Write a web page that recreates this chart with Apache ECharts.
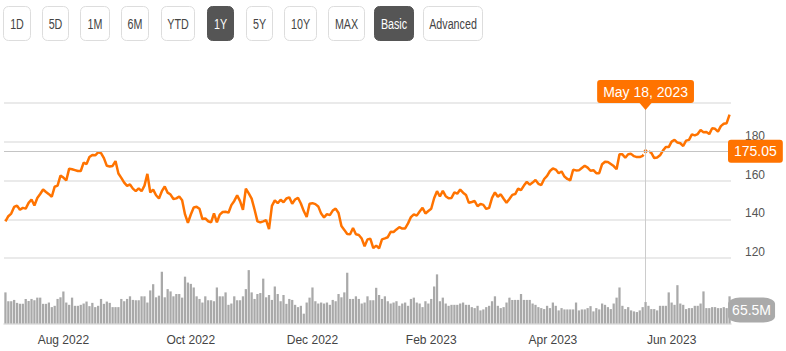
<!DOCTYPE html>
<html>
<head>
<meta charset="utf-8">
<script src="https://cdn.jsdelivr.net/npm/echarts@6/dist/echarts.min.js"></script>
<style>
  html, body { margin: 0; padding: 0; background: #fff; }
  #chart { width: 786px; height: 351px; }
</style>
</head>
<body>
<div id="chart"></div>
<script>
// trading calendar, 1 Jul 2022 - 30 Jun 2023
var startDay = '2022-07-01';
var endDay = '2023-06-30';
var holidays = ['2022-07-04', '2022-09-05', '2022-11-24', '2022-12-26', '2023-01-02',
  '2023-01-16', '2023-02-20', '2023-04-07', '2023-05-29', '2023-06-19'];
var monthNames = ['Jan', 'Feb', 'Mar', 'Apr', 'May', 'Jun', 'Jul', 'Aug', 'Sep', 'Oct', 'Nov', 'Dec'];

// daily close
var closes = [
  138.93, 141.56, 142.92, 146.35, 147.04, 144.87, 145.86, 145.49, 148.47, 150.17,
  147.07, 151.00, 153.04, 155.35, 154.09, 152.95, 151.60, 156.79, 157.35, 162.51,
  161.51, 160.01, 166.13, 165.81, 165.35, 164.87, 164.92, 169.24, 168.49, 172.10,
  173.19, 173.03, 174.55, 174.15, 171.52, 167.57, 167.23, 167.53, 170.03, 163.62,
  161.38, 158.91, 157.22,
  157.96, 155.81, 154.53, 155.96, 154.46, 157.37, 163.43, 153.84, 155.31, 152.37,
  150.70, 154.48, 156.90, 153.72, 152.74, 150.43, 150.77, 151.76, 149.84, 142.48, 138.20,
  142.45, 146.10, 146.40, 145.43, 140.09, 140.42, 138.98, 138.34, 142.99, 138.38,
  142.41, 143.75, 143.86, 143.39, 147.27, 149.45, 152.34, 149.35, 144.80, 155.74, 153.34,
  150.65, 145.03, 138.88, 138.38, 138.92, 139.50, 134.87, 146.87, 149.70, 148.28,
  150.04, 148.79, 150.72, 151.29, 148.01, 150.18, 151.07, 148.11, 144.22, 141.17, 148.03,
  148.31, 147.81, 146.63, 142.91, 140.94, 142.65, 142.16, 144.49, 145.47, 143.21,
  136.50, 134.51, 132.37, 132.30, 135.45, 132.23, 131.86, 130.03, 126.04, 129.61, 129.93,
  125.07, 126.36, 125.02, 129.62, 130.15, 130.73, 133.49, 133.41, 134.76, 135.94,
  135.21, 135.27, 137.87, 141.11, 142.53, 141.86, 143.96, 145.93, 143.00, 144.29,
  145.43, 150.82, 154.50, 151.73, 154.65, 151.92, 150.87, 151.01, 153.85, 153.20,
  155.33, 153.71, 152.55, 148.48, 148.91, 149.40, 146.71, 147.92, 147.41,
  145.31, 145.91, 151.03, 153.83, 151.60, 152.87, 150.59, 148.50, 150.47, 152.59,
  152.99, 155.85, 155.00, 157.40, 159.28, 157.83, 158.93, 160.25, 158.28, 157.65,
  160.77, 162.36, 164.90,
  166.17, 165.63, 163.76, 164.66, 162.03, 160.80, 160.10, 165.56, 165.21, 165.23,
  166.47, 167.63, 166.65, 165.02, 165.33, 163.77, 163.76, 168.41, 169.68,
  169.59, 168.54, 167.45, 165.79, 173.57, 173.50, 171.77, 173.56, 173.75, 172.57,
  172.07, 172.07, 172.69, 175.05, 175.16, 174.20, 171.56, 171.84, 172.99, 175.43,
  177.30, 177.25,
  180.09, 180.95, 179.58, 179.21, 177.82, 180.57, 180.96, 183.79, 183.31, 183.95,
  186.01, 184.92, 185.01, 183.96, 187.00, 186.68, 185.27, 188.06, 189.25, 189.59, 193.97
];

// daily volume, millions
var volumes = [
  95, 68, 68, 72, 63, 60, 60, 75, 69, 75, 71, 79, 79, 60, 60, 64, 50, 54, 75, 80,
  98, 64, 57, 79, 54, 54, 57, 61, 67, 53, 63, 50, 54, 75, 60, 67, 63, 50, 50, 50,
  75, 68, 75, 83, 72, 71, 71, 83, 83, 64, 101, 120, 80, 85, 158, 80, 105, 98, 83, 90,
  90, 79, 143, 125, 121, 110, 83, 75, 64, 83, 71, 71, 68, 110, 83, 83, 95, 57, 61, 83,
  71, 71, 83, 105, 163, 95, 75, 90, 93, 137, 80, 87, 72, 113, 90, 68, 87, 60, 75, 72,
  57, 50, 54, 30, 64, 79, 110, 68, 61, 64, 61, 64, 57, 72, 68, 90, 80, 95, 155, 75,
  75, 83, 75, 61, 64, 83, 71, 71, 109, 87, 75, 83, 68, 61, 64, 68, 54, 61, 64, 54,
  75, 79, 64, 61, 50, 68, 61, 75, 113, 150, 68, 79, 61, 54, 57, 57, 57, 61, 64, 57,
  57, 50, 47, 54, 40, 43, 50, 54, 68, 83, 54, 47, 50, 64, 79, 72, 72, 72, 90, 72,
  72, 72, 61, 57, 50, 47, 44, 54, 47, 64, 54, 40, 47, 43, 43, 43, 43, 64, 40, 43,
  43, 47, 53, 37, 47, 43, 61, 57, 50, 44, 61, 79, 110, 54, 44, 50, 40, 37, 35, 40,
  50, 65.5, 54, 44, 44, 40, 54, 54, 54, 95, 64, 57, 117, 61, 57, 44, 47, 47, 54, 54,
  61, 98, 47, 47, 50, 50, 47, 47, 50, 47, 83
];

var priceTicks = [120, 140, 160, 180, 200];
var hoverDate = '2023-05-18';
var hoverLabel = 'May 18, 2023';
var buttons = ['1D', '5D', '1M', '6M', 'YTD', '1Y', '5Y', '10Y', 'MAX', 'Basic', 'Advanced'];
var activeButtons = ['1Y', 'Basic'];

// layout of the button row
var btnX = [3, 42, 80, 121, 161, 207, 246, 284, 328, 374, 423];
var btnW = [27, 26, 29, 27, 33, 26, 26, 32, 36, 39, 59];

function pad(n) { return n < 10 ? '0' + n : '' + n; }
function fmt(d) { return d.getUTCFullYear() + '-' + pad(d.getUTCMonth() + 1) + '-' + pad(d.getUTCDate()); }

var dates = [];
var d = new Date(startDay + 'T00:00:00Z');
var last = new Date(endDay + 'T00:00:00Z');
while (d <= last) {
  var wd = d.getUTCDay();
  var s = fmt(d);
  if (wd !== 0 && wd !== 6 && holidays.indexOf(s) < 0) dates.push(s);
  d.setUTCDate(d.getUTCDate() + 1);
}

var hoverIdx = dates.indexOf(hoverDate);
var hoverPrice = closes[hoverIdx];
var hoverVol = volumes[hoverIdx];

function isLabelDay(index) {
  if (index === 0) return false;
  var m = +dates[index].slice(5, 7);
  var pm = +dates[index - 1].slice(5, 7);
  return m !== pm && m % 2 === 0;
}

var ORANGE = '#ff7300';
var FONT = "'Liberation Sans', Arial, sans-serif";

var lineData = closes.map(function (v, i) {
  if (i !== hoverIdx) return v;
  return {
    value: v,
    symbol: 'circle',
    symbolSize: 6,
    itemStyle: { color: ORANGE, borderColor: '#fff', borderWidth: 2 }
  };
});

var graphics = [];
buttons.forEach(function (b, i) {
  var on = activeButtons.indexOf(b) >= 0;
  graphics.push({
    type: 'rect',
    shape: { x: btnX[i] + 0.5, y: 6.5, width: btnW[i], height: 34, r: 5 },
    style: { fill: on ? '#555555' : '#ffffff', stroke: on ? '#555555' : '#dddddd', lineWidth: 1 },
    silent: true
  });
  // the site uses a condensed face, squeeze the text to match
  graphics.push({
    type: 'text',
    x: btnX[i] + btnW[i] / 2 + 0.5,
    y: 24,
    scaleX: 0.74,
    style: {
      text: b,
      align: 'center',
      verticalAlign: 'middle',
      fill: on ? '#ffffff' : '#444444',
      font: "14.5px 'Liberation Sans', Arial, sans-serif"
    },
    silent: true
  });
});

var chart = echarts.init(document.getElementById('chart'), null, { renderer: 'svg' });
chart.setOption({
  animation: false,
  textStyle: { fontFamily: FONT },
  graphic: graphics,
  grid: [
    { left: 4, right: 55, top: 103, height: 155 },
    { left: 4, right: 55, top: 258, height: 65.5 }
  ],
  xAxis: [
    {
      type: 'category',
      gridIndex: 0,
      data: dates,
      boundaryGap: true,
      show: false
    },
    {
      type: 'category',
      gridIndex: 1,
      data: dates,
      boundaryGap: true,
      axisLine: { lineStyle: { color: '#dddddd', width: 1.5 } },
      axisTick: {
        alignWithLabel: true,
        length: 11,
        interval: function (index) { return isLabelDay(index); },
        lineStyle: { color: '#dddddd', width: 1.5 }
      },
      axisLabel: {
        interval: function (index) { return isLabelDay(index); },
        margin: 10,
        color: '#444',
        fontSize: 12,
        fontFamily: FONT,
        formatter: function (v) {
          return monthNames[+v.slice(5, 7) - 1] + ' ' + v.slice(0, 4);
        }
      },
      splitLine: { show: false }
    }
  ],
  yAxis: [
    {
      type: 'value',
      gridIndex: 0,
      position: 'right',
      min: priceTicks[0],
      max: priceTicks[priceTicks.length - 1],
      interval: priceTicks[1] - priceTicks[0],
      axisLine: { show: false },
      axisTick: { show: false },
      axisLabel: {
        margin: 14,
        verticalAlign: 'bottom',
        color: '#555',
        fontSize: 12,
        fontFamily: FONT,
        formatter: function (v) { return v === priceTicks[priceTicks.length - 1] ? '' : v; }
      },
      splitLine: { lineStyle: { color: '#e3e3e3', width: 1.5 } }
    },
    {
      type: 'value',
      gridIndex: 1,
      min: 0,
      max: 200,
      show: false,
      splitLine: { show: false }
    }
  ],
  series: [
    {
      type: 'bar',
      xAxisIndex: 1,
      yAxisIndex: 1,
      data: volumes,
      barCategoryGap: '22%',
      itemStyle: { color: '#a9a9a9' },
      silent: true,
      markLine: {
        silent: true,
        symbol: 'none',
        data: [
          [
            { coord: [hoverDate, 200] },
            { coord: [hoverDate, hoverVol] }
          ]
        ],
        lineStyle: { color: '#cccccc', width: 1, type: 'solid' },
        label: { show: false }
      },
      // volume tag at the right edge, level with the hovered bar
      markPoint: {
        silent: true,
        z: 10,
        data: [{
          coord: [dates[dates.length - 1], hoverVol],
          symbol: 'roundRect',
          symbolSize: [47, 25],
          symbolOffset: [22, 8],
          itemStyle: { color: '#aaaaaa' },
          label: {
            show: true,
            position: 'inside',
            formatter: hoverVol + 'M',
            color: '#fff',
            fontSize: 14,
            fontFamily: FONT
          }
        }]
      }
    },
    {
      type: 'line',
      xAxisIndex: 0,
      yAxisIndex: 0,
      data: lineData,
      symbol: 'none',
      showAllSymbol: true,
      lineStyle: { color: ORANGE, width: 2.5 },
      itemStyle: { color: ORANGE },
      silent: true,
      z: 3,
      markLine: {
        silent: true,
        symbol: 'none',
        data: [
          {
            xAxis: hoverDate,
            lineStyle: { color: '#cccccc', width: 1, type: 'solid' },
            label: { show: false }
          },
          {
            yAxis: hoverPrice,
            lineStyle: { color: '#c4c4c4', width: 1.2, type: 'solid' },
            label: {
              show: true,
              position: 'end',
              distance: -3,
              formatter: hoverPrice.toFixed(2),
              color: '#fff',
              fontSize: 14,
              fontFamily: FONT,
              backgroundColor: ORANGE,
              padding: [5, 6, 4, 6],
              borderRadius: 3
            }
          }
        ]
      },
      markPoint: {
        silent: true,
        z: 10,
        data: [{
          coord: [hoverDate, priceTicks[priceTicks.length - 1]],
          symbol: 'path://M0,0 L12,0 L6,7 Z',
          symbolSize: [12, 7],
          symbolOffset: [0, 3.5],
          itemStyle: { color: ORANGE },
          label: {
            show: true,
            position: 'top',
            distance: 0,
            formatter: hoverLabel,
            color: '#fff',
            fontSize: 14,
            fontFamily: FONT,
            backgroundColor: ORANGE,
            padding: [5, 6, 4, 6],
            borderRadius: 3
          }
        }]
      }
    }
  ]
});
</script>
</body>
</html>
